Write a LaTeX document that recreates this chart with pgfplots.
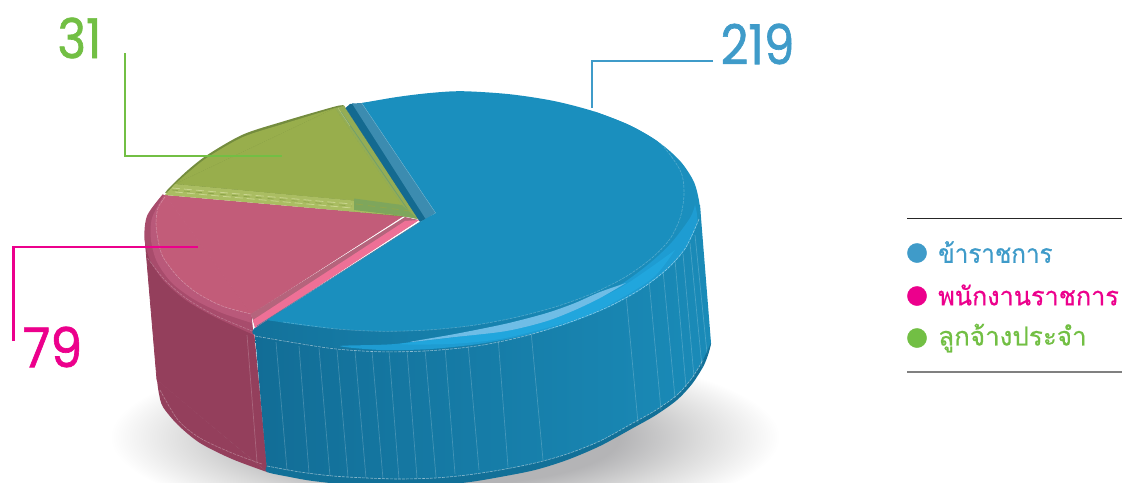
\documentclass[border=0pt]{standalone}
\usepackage{pgfplots}
\pgfplotsset{compat=1.18}
\usepackage{fontspec}
\setmainfont{Poppins}
\newfontfamily\numfont[FakeBold=1.2]{Poppins}
\newfontfamily\thaifont[Script=Thai,FakeBold=.6]{Loma}
\definecolor{cblue}{HTML}{3F9BC9}
\definecolor{cpink}{HTML}{EC008C}
\definecolor{cgreen}{HTML}{72BF44}
\definecolor{topblue}{HTML}{1A8FBE}
\definecolor{shadowgrey}{HTML}{B4B4B6}
\definecolor{sidepink}{HTML}{943F5C}
\definecolor{sideblueA}{HTML}{126D96}
\definecolor{sideblueB}{HTML}{1A8BB8}
\definecolor{baseblue}{HTML}{127098}
\definecolor{rimpinkA}{HTML}{A84C6C}
\definecolor{rimpinkB}{HTML}{B9597A}
\definecolor{toppink}{HTML}{C25C79}
\definecolor{edgepinkA}{HTML}{B5647C}
\definecolor{edgepinkB}{HTML}{EE7096}
\definecolor{rimgreen}{HTML}{748C3E}
\definecolor{topgreen}{HTML}{98AE4C}
\definecolor{edgegreen}{HTML}{94AD55}
\definecolor{edgegreenB}{HTML}{AABD62}
\definecolor{edgegreenC}{HTML}{7EA65C}
\definecolor{linegreenA}{HTML}{6F9F6E}
\definecolor{linegreenB}{HTML}{C9D58E}
\definecolor{linegreenC}{HTML}{8FA64C}
\definecolor{cutA}{HTML}{146A90}
\definecolor{cutB}{HTML}{3C8CB0}
\definecolor{cutC}{HTML}{86BED4}
\definecolor{rimblueA}{HTML}{13729B}
\definecolor{rimblueB}{HTML}{1C92C4}
\definecolor{rimblueC}{HTML}{1B90BF}
\definecolor{bandblue}{HTML}{1E9CD2}
\definecolor{brightblue}{HTML}{21A6DD}
\definecolor{glowblue}{HTML}{6FBDE6}
\definecolor{creaseblue}{HTML}{4F7FA0}
\pgfdeclareradialshading{softshadow}{\pgfpointorigin}{color(0bp)=(shadowgrey);color(13bp)=(shadowgrey);color(19bp)=(black!14);color(25bp)=(white);color(50bp)=(white)}
\pgfplotsset{
  arc/.style={draw=none,smooth,fill=#1},
  poly/.style={draw=#1,line width=.8pt,fill=#1},
  seam/.style={draw=white,draw opacity=.2,line width=.7pt},
  dots/.style={draw=white,draw opacity=.5,line width=.6pt,smooth,dash pattern=on 3pt off 1pt},
}
\begin{document}
\begin{tikzpicture}
\path[use as bounding box] (0,0) rectangle (1131pt,482pt);
\begin{axis}[
  at={(0,0)},anchor=south west,
  scale only axis,width=1131pt,height=482pt,
  xmin=0,xmax=1131,ymin=0,ymax=482,y dir=reverse,
  axis lines=none,enlargelimits=false,clip=true,
]
% soft ground shadow
\path[shading=softshadow] (axis cs:445,437) ellipse [x radius=335,y radius=92];

% side wall, salaried wedge
\addplot[arc=sidepink] coordinates {(157,380)(159,394)(163,407)(178,425)(200,443)(232,459)(267,472)};
\addplot[poly=sidepink] coordinates {(145,238)(157,380)(267,471.5)(254,335)};

% side wall, civil servant wedge
\addplot[draw=none,left color=sideblueA,middle color=sideblueB,right color=sideblueB] coordinates {(255,335)(267,471)(313,480)(360,485)(395,486)(440,484)(470,481)(500,476)(535,469)(567,459)(600,445)(633,427)(656,414)(677,399)(692,383)(703,366)(708,354)(711,343)(700,205)};
\addplot[arc=baseblue] coordinates {(267,466)(267,472)(290,477)(313,481)(360,486)(395,487)(440,485)(470,482)(500,477)(535,470)(567,460)(600,446)(633,428)(656,415)(677,400)(692,384)(703,367)(708,355)(711,343)(703,360)(692,378)(677,395)(656,410)(633,423)(600,441)(567,454)(535,463)(500,470)(467,475)(435,478)(400,479)(367,478)(333,476)(300,472)(267,466)};
\addplot[seam] coordinates {(247,335)(257,462)};
\addplot[seam] coordinates {(276,342)(287,470)};
\addplot[seam] coordinates {(299,346)(309,473)};
\addplot[seam] coordinates {(319,348)(330,476)};
\addplot[seam] coordinates {(337,350)(348,477)};
\addplot[seam] coordinates {(355,351)(366,478)};
\addplot[seam] coordinates {(372,351)(383,479)};
\addplot[seam] coordinates {(389,351)(399,479)};
\addplot[seam] coordinates {(407,350)(417,478)};
\addplot[seam] coordinates {(425,349)(436,477)};
\addplot[seam] coordinates {(445,347)(455,474)};
\addplot[seam] coordinates {(468,344)(479,470)};
\addplot[seam] coordinates {(498,337)(508,467)};
\addplot[seam] coordinates {(531,331)(543,460)};
\addplot[seam] coordinates {(626,294)(638,423)};
\addplot[seam] coordinates {(649,280)(661,410)};
\addplot[seam] coordinates {(663,270)(675,398)};
\addplot[seam] coordinates {(675,260)(686,387)};
\addplot[seam] coordinates {(683,254)(694,377)};
\addplot[seam] coordinates {(690,243)(702,367)};
\addplot[seam] coordinates {(695,235)(707,353)};
\addplot[dots] coordinates {(267,466)(300,472)(333,476)(367,478)(400,479)(435,478)(467,475)(500,470)(535,463)(567,454)(600,441)(633,423)(656,410)(677,395)(692,378)(703,360)};
\addplot[dots,draw opacity=.3] coordinates {(160,390)(178,420)(200,438)(232,453)(262,464)};

% rounded rim and top, salaried wedge
\addplot[arc=rimpinkA] coordinates {(163,194)(147.3,215.3)(144.5,238)(150.1,260.1)(163.9,281)(185.7,300.1)(214.5,316.8)(254,335)};
\addplot[poly=rimpinkA] coordinates {(164,195)(253,334)(251,314)};
\addplot[arc=rimpinkB] coordinates {(164,195)(152,218)(151,240)(157,262)(172,283)(195,300)(222,313)(252,323)};
\addplot[poly=rimpinkB] coordinates {(165,196)(251,322)(251,314)};
\addplot[arc=toppink] coordinates {(165,195)(158,208)(156,223)(158,240)(163,257)(178,277)(197,293)(222,306)(251,314)};
\addplot[poly=toppink] coordinates {(165,195)(251,314)(403,216)};
\addplot[dots,draw opacity=.3] coordinates {(165,197)(158,208)(156,223)(158,240)(163,257)(178,277)(197,293)(222,306)(251,314)};
\addplot[dots,draw opacity=.25] coordinates {(147.5,258)(163.9,279)(185.7,298)(214.5,315)(252,331)};

% top of the permanent employees wedge
\addplot[arc=rimgreen] coordinates {(165,193)(170,187)(188,170)(208,154.5)(243,134.5)(283,121.5)(335,106.5)(344,105.5)};
\addplot[draw=none,fill=rimgreen] coordinates {(165,193)(344,105.5)(418,218)};
\addplot[arc=topgreen] coordinates {(175,184)(190,171)(208,157)(243,137)(283,124)(335,108)};
\addplot[poly=topgreen] coordinates {(176,184)(335,108.5)(402,205)};
\addplot[draw=none,fill=edgegreen] coordinates {(335,108)(344,106)(419,220)(402,205)};
\addplot[draw=linegreenA,line width=.7pt] coordinates {(341,112)(408,210)};
\addplot[draw=linegreenB,draw opacity=.6,line width=.5pt] coordinates {(338,108)(350,126)};
\addplot[draw=none,fill=edgegreenB] coordinates {(175,184)(165,195)(403,216)(418,219)(402,205)};
\addplot[draw=none,fill=edgegreenC] coordinates {(354,198.5)(402,205)(418,219)(403,216)(354,210)};
\addplot[draw=linegreenB,line width=.8pt,dash pattern=on 8pt off 4pt] coordinates {(172,188)(352,204)};
\addplot[draw=linegreenB,line width=.8pt,dash pattern=on 8pt off 4pt] coordinates {(175,192)(352,208)};
\addplot[draw=linegreenC,line width=.8pt,dash pattern=on 6pt off 6pt] coordinates {(172,190)(352,206)};
\addplot[draw=linegreenC,line width=.8pt,dash pattern=on 7pt off 5pt] coordinates {(356,204)(410,211)};

% cut face beside the civil servant wedge
\addplot[draw=none,fill=cutA] coordinates {(345.5,108)(350,104)(354,103.5)(428,218)(420,222)};
\addplot[draw=none,fill=cutB] coordinates {(352,103.5)(362,103)(436,213)(426,219.5)};
\addplot[draw=cutC,line width=.8pt] coordinates {(362,103)(436,213)(429,218)};

% rim, civil servant wedge
\addplot[draw=none,smooth,left color=rimblueA,middle color=rimblueB,right color=rimblueC] coordinates {(594.3,111.5)(629.5,125.2)(658.3,141.9)(680.1,161)(693.9,181.9)(699.5,204)(699,220)(685.5,249)(666.3,270.7)(639.7,290.8)(606.5,308.7)(567.6,324)(524.3,336.2)(478,344.8)(429.9,349.7)(381.6,350.8)(334.5,347.8)(290,341)(255,335)(255.5,327)(275,312)(330,300)(400,295)(480,290)(560,270)(620,235)(650,190)(620,130)(594.3,111.5)};
\addplot[arc=bandblue] coordinates {(695,205)(690,218)(672,242)(650,263)(620,285)(590,299)(550,315)(500,327)(450,336)(395,344)(340,346)(381.6,350)(429.9,349)(478,344)(524.3,335.5)(567.6,323.5)(606.5,308)(639.7,290)(666.3,270)(685.5,248)(697,222)(695,205)};
\addplot[arc=brightblue] coordinates {(675,250)(650,268)(620,288)(590,302)(550,317)(500,330)(450,338)(400,344)(450,344)(500,339)(550,327)(590,314)(625,296)(655,276)(675,250)};
\addplot[arc=glowblue] coordinates {(626,283)(600,292)(575,303)(550,312)(525,319)(500,325)(455,334)(410,342)(455,337)(500,332)(525,327)(550,320)(575,310)(600,298)(626,283)};

% bevel along the salaried wedge
\addplot[draw=none,fill=edgepinkA] coordinates {(251,314)(405,217)(419,220)(255,327)};
\addplot[draw=none,fill=edgepinkB] coordinates {(253,320)(405,221)(419,220)(255,328)};

% top, civil servant wedge
\addplot[arc=topblue] coordinates {(362,103)(397,97)(430,93)(462.4,91.2)(509.5,94.2)(554,101)(594.3,111.5)(629.5,125.2)(657,141)(670,155)(680,170)(684,193)};
\addplot[arc=topblue] coordinates {(684,193)(680.4,217)(669.9,239)(651.8,258)(626.5,276.3)(595,292.4)(558.3,306)(517.4,317)(473.6,325.3)(428,330)(382,331.3)(337,329)(300,325)(267,320)};
\addplot[draw=none,fill=topblue] coordinates {(362,103)(430,95)(510,96)(595,113.5)(656,142.5)(679,172)(682,193)(678,216)(651,256)(595,290.5)(517,315)(428,328)(337,327)(300,323)(267,320)(420,222)(436,213)};
\addplot[draw=creaseblue,line width=.6pt] coordinates {(420,222)(257,326)};
\addplot[dots] coordinates {(255,336)(290,342)(334.5,348.8)(381.6,351.8)(429.9,350.7)(478,345.8)(524.3,336.2)(567.6,323)(606.5,307.7)(639.7,289.8)(666.3,269.7)(685.5,248)(699,219)};
\addplot[dots,draw opacity=.25] coordinates {(283,322)(337,329)(382,331.3)(428,330)(473.6,325.3)(517.4,317)(558.3,306)(595,292.4)(626.5,276.3)(651.8,258)(669.9,239)(680.4,217)(684,193)(680,170)(657,140)(620,118)};

% leader lines
\addplot[draw=cgreen,line width=2.8pt,line cap=butt] coordinates {(125,53)(125,156)(282,156)};
\addplot[draw=cpink,line width=2.8pt,line cap=butt] coordinates {(13.5,341)(13.5,247)(198,247)};
\addplot[draw=cblue,line width=2.8pt,line cap=butt] coordinates {(713,61)(592,61)(592,108)};

% legend rules and markers
\addplot[draw=black!85,line width=.9pt] coordinates {(907,218)(1122,218)};
\addplot[draw=black!50,line width=1.4pt] coordinates {(907,372)(1122,372)};
\addplot[only marks,draw=cblue,mark=*,mark size=9.6,mark options={draw=cblue,fill=cblue}] coordinates {(917,253)};
\addplot[only marks,draw=cpink,mark=*,mark size=9.6,mark options={draw=cpink,fill=cpink}] coordinates {(917,296)};
\addplot[only marks,draw=cgreen,mark=*,mark size=9.6,mark options={draw=cgreen,fill=cgreen}] coordinates {(917,338)};

\node[anchor=west,inner sep=0,text=cblue] at (axis cs:938,252) {\scalebox{.93}[1]{\thaifont\fontsize{26}{26}\selectfont ข้าราชการ}};
\node[anchor=west,inner sep=0,text=cpink] at (axis cs:938,295) {\scalebox{.97}[1]{\thaifont\fontsize{26}{26}\selectfont พนักงานราชการ}};
\node[anchor=west,inner sep=0,text=cgreen] at (axis cs:938,338) {\thaifont\fontsize{26}{26}\selectfont ลูกจ้างประจำ};

% wedge values
\node[anchor=center,inner sep=0,text=cgreen] at (axis cs:79.5,38) {\numfont\fontsize{55}{55}\selectfont\scalebox{.88}[1]{31}};
\node[anchor=center,inner sep=0,text=cpink] at (axis cs:52.5,347) {\numfont\fontsize{55}{55}\selectfont\scalebox{.92}[1]{79}};
\node[anchor=center,inner sep=0,text=cblue] at (axis cs:757.5,44) {\numfont\fontsize{55}{55}\selectfont\scalebox{.88}[1]{219}};
\end{axis}
\end{tikzpicture}
\end{document}
